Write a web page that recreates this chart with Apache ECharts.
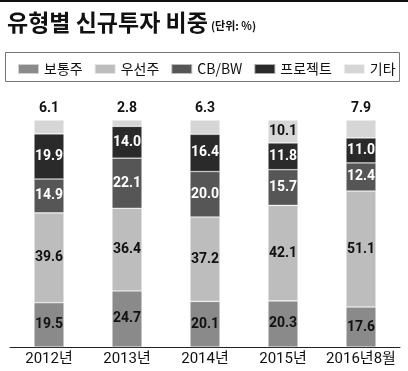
<!DOCTYPE html>
<html><head><meta charset="utf-8">
<script src="https://cdn.jsdelivr.net/npm/echarts@6/dist/echarts.min.js"></script>
<style>html,body{margin:0;padding:0;background:#fff}#c{width:408px;height:371px}</style>
</head><body><div id="c"></div>
<script>
const categories = ['2012년','2013년','2014년','2015년','2016년8월'];
const common = [19.5, 24.7, 20.1, 20.3, 17.6];     // 보통주
const preferred = [39.6, 36.4, 37.2, 42.1, 51.1];  // 우선주
const cbbw = [14.9, 22.1, 20.0, 15.7, 12.4];       // CB/BW
const project = [19.9, 14.0, 16.4, 11.8, 11.0];    // 프로젝트
const others = [6.1, 2.8, 6.3, 10.1, 7.9];         // 기타
const seriesNames = ['보통주','우선주','CB/BW','프로젝트','기타'];

const FONT = '"Noto Sans CJK KR", "Noto Sans", sans-serif';
const NUM = 'Roboto, "Noto Sans CJK KR", sans-serif';
const colors = ['#8a8a8a','#bdbdbd','#565656','#2a2a2a','#d6d6d6'];
const labelColors = ['#111','#111','#fff','#fff','#111'];
const allData = [common, preferred, cbbw, project, others];

const chart = echarts.init(document.getElementById('c'), null, {renderer:'canvas'});
const series = allData.map((arr, si) => ({
  name: seriesNames[si],
  type: 'bar',
  stack: 'total',
  barWidth: 30,
  itemStyle: { color: colors[si], borderColor: 'rgba(255,255,255,0.6)', borderWidth: 0.6 },
  label: {
    show: true, position: 'inside', color: labelColors[si],
    fontFamily: NUM, fontSize: 14, fontWeight: 'bold',
    formatter: p => p.value.toFixed(1)
  },
  data: arr.map((v, i) => {
    if (si === 4 && v < 10) {
      return { value: v, label: { position: 'top', distance: 5 } };
    }
    return v;
  })
}));

chart.setOption({
  animation: false,
  color: colors,
  title: {
    text: '{a|유형별 신규투자 비중}{b|(단위: %)}',
    left: 2, top: 6,
    textStyle: { rich: {
      a: { fontFamily: FONT, fontSize: 23, fontWeight: 'bold', color: '#111' },
      b: { fontFamily: FONT, fontSize: 11, color: '#111', padding: [6,0,0,3] }
    }}
  },
  graphic: [
    { type: 'rect', left: 0, top: 0, shape: { width: 408, height: 2 }, style: { fill: '#111' } },
    { type: 'rect', left: 3, top: 50, shape: { width: 394, height: 29 }, style: { fill: 'none', stroke: '#777', lineWidth: 1 } }
  ],
  legend: {
    data: seriesNames,
    left: 12, top: 57, width: 395,
    itemWidth: 21, itemHeight: 10, itemGap: 11,
    icon: 'rect',
    textStyle: { fontFamily: FONT, fontSize: 14, color: '#111' }
  },
  grid: { left: 10, right: 8, top: 120, bottom: 24 },
  xAxis: {
    type: 'category', data: categories,
    axisLine: { lineStyle: { color: '#222', width: 1 } },
    axisTick: { show: false },
    axisLabel: { interval: 0, fontFamily: NUM, fontSize: 15, color: '#111', margin: 5 }
  },
  yAxis: { type: 'value', min: 0, max: 100, show: false },
  series: series
});
</script></body></html>
